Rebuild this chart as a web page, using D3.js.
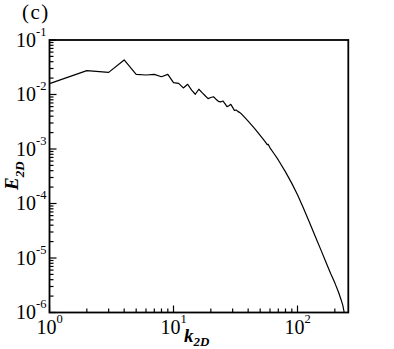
<!DOCTYPE html>
<html><head><meta charset="utf-8">
<script src="https://cdn.jsdelivr.net/npm/d3@7"></script>
<style>body{margin:0;background:#fff}svg{display:block}svg text{font-family:"Liberation Serif",serif}</style>
</head><body>
<script>
// wavenumber k_2D
const kValues = [1,2,3,4,5,6,7,8,9,10,11,12,13,14,15,16,17,18,19,20,21,22,23,24,25,26,27,28,29,30,31,32,33,34,35,
  40,45,50,55,57,58,60,65,70,80,90,100,110,125,140,155,170,185,200,215,225,232,238];
// spectrum E_2D
const eValues = [0.0158,0.0274,0.0255,0.043,0.0234,0.0228,0.0234,0.0212,0.0234,0.0165,0.0160,0.0132,0.0154,0.0120,0.0101,0.0125,0.0108,0.0095,0.0084,0.0088,0.0091,0.0082,0.0075,0.0073,0.0076,0.0068,0.0060,0.0062,0.0066,0.0058,0.0051,0.0052,0.0049,0.0047,0.0045,
  0.00324,0.00240,0.00178,0.00135,0.00120,0.00122,0.00105,0.00081,0.00063,0.00038,0.000234,0.000145,0.000089,0.0000447,0.0000240,0.0000138,0.0000083,0.0000052,0.0000035,0.0000023,0.0000017,0.00000135,0.00000100];
const xTickExps = [0,1,2];
const yTickExps = [-1,-2,-3,-4,-5,-6];
const panelLabel = "(c)";

const W = 394, H = 349;
const m = {l:49.5, r:348.3, t:40, b:312.5};
const svg = d3.select("body").append("svg").attr("width",W).attr("height",H);

const x = d3.scaleLog().domain([1, Math.pow(10,(m.r-m.l)/124)]).range([m.l,m.r]);
const y = d3.scaleLog().domain([1e-6,1e-1]).range([m.b,m.t]);

// minor & major ticks inward
const g = svg.append("g");
for (let d=0; d<3; d++) for (let i=1;i<10;i++){
  const v = i*Math.pow(10,d); if (v > x.domain()[1]) continue;
  const len = i===1?7:4;
  g.append("line").attr("x1",x(v)).attr("x2",x(v)).attr("y1",m.b).attr("y2",m.b-len).attr("stroke","#000").attr("stroke-width",1.2);
}
for (let d=-6; d<-1+0.5; d++) for (let i=1;i<10;i++){
  const v = i*Math.pow(10,d); if (v > 0.1+1e-12) continue;
  const len = i===1?7:4;
  g.append("line").attr("x1",m.l).attr("x2",m.l+len).attr("y1",y(v)).attr("y2",y(v)).attr("stroke","#000").attr("stroke-width",1.2);
}

// data line
const line = d3.line().x((d,i)=>x(kValues[i])).y((d,i)=>y(eValues[i]));
svg.append("path").datum(eValues).attr("d",line).attr("fill","none").attr("stroke","#000").attr("stroke-width",1.2).attr("stroke-linejoin","round");

// frame
svg.append("rect").attr("x",m.l).attr("y",m.t).attr("width",m.r-m.l).attr("height",m.b-m.t).attr("fill","none").attr("stroke","#000").attr("stroke-width",1.8);

// x tick labels
xTickExps.forEach(e=>{
  const t = svg.append("text").attr("x",x(Math.pow(10,e))).attr("y",334).attr("text-anchor","middle").attr("font-size",20);
  t.append("tspan").text("10");
  t.append("tspan").attr("dy",-11).attr("font-size",12.5).text(e);
});
// y tick labels
yTickExps.forEach(e=>{
  const t = svg.append("text").attr("x",46.5).attr("y",y(Math.pow(10,e))+6.7).attr("text-anchor","end").attr("font-size",20);
  t.append("tspan").text("10");
  t.append("tspan").attr("dy",-11).attr("font-size",12.5).text(e);
});

// axis titles
const xt = svg.append("text").attr("x",184).attr("y",342).attr("font-size",19).attr("font-weight","bold").attr("font-style","italic");
xt.append("tspan").text("k");
xt.append("tspan").attr("dy",4).attr("font-size",13).text("2D");
const yt = svg.append("text").attr("transform","translate(17.5,190) rotate(-90)").attr("font-size",19).attr("font-weight","bold").attr("font-style","italic");
yt.append("tspan").text("E");
yt.append("tspan").attr("dy",6).attr("font-size",13).text("2D");

svg.append("text").attr("x",22).attr("y",19).attr("font-size",21).attr("letter-spacing",1.5).text(panelLabel);
</script>
</body></html>
